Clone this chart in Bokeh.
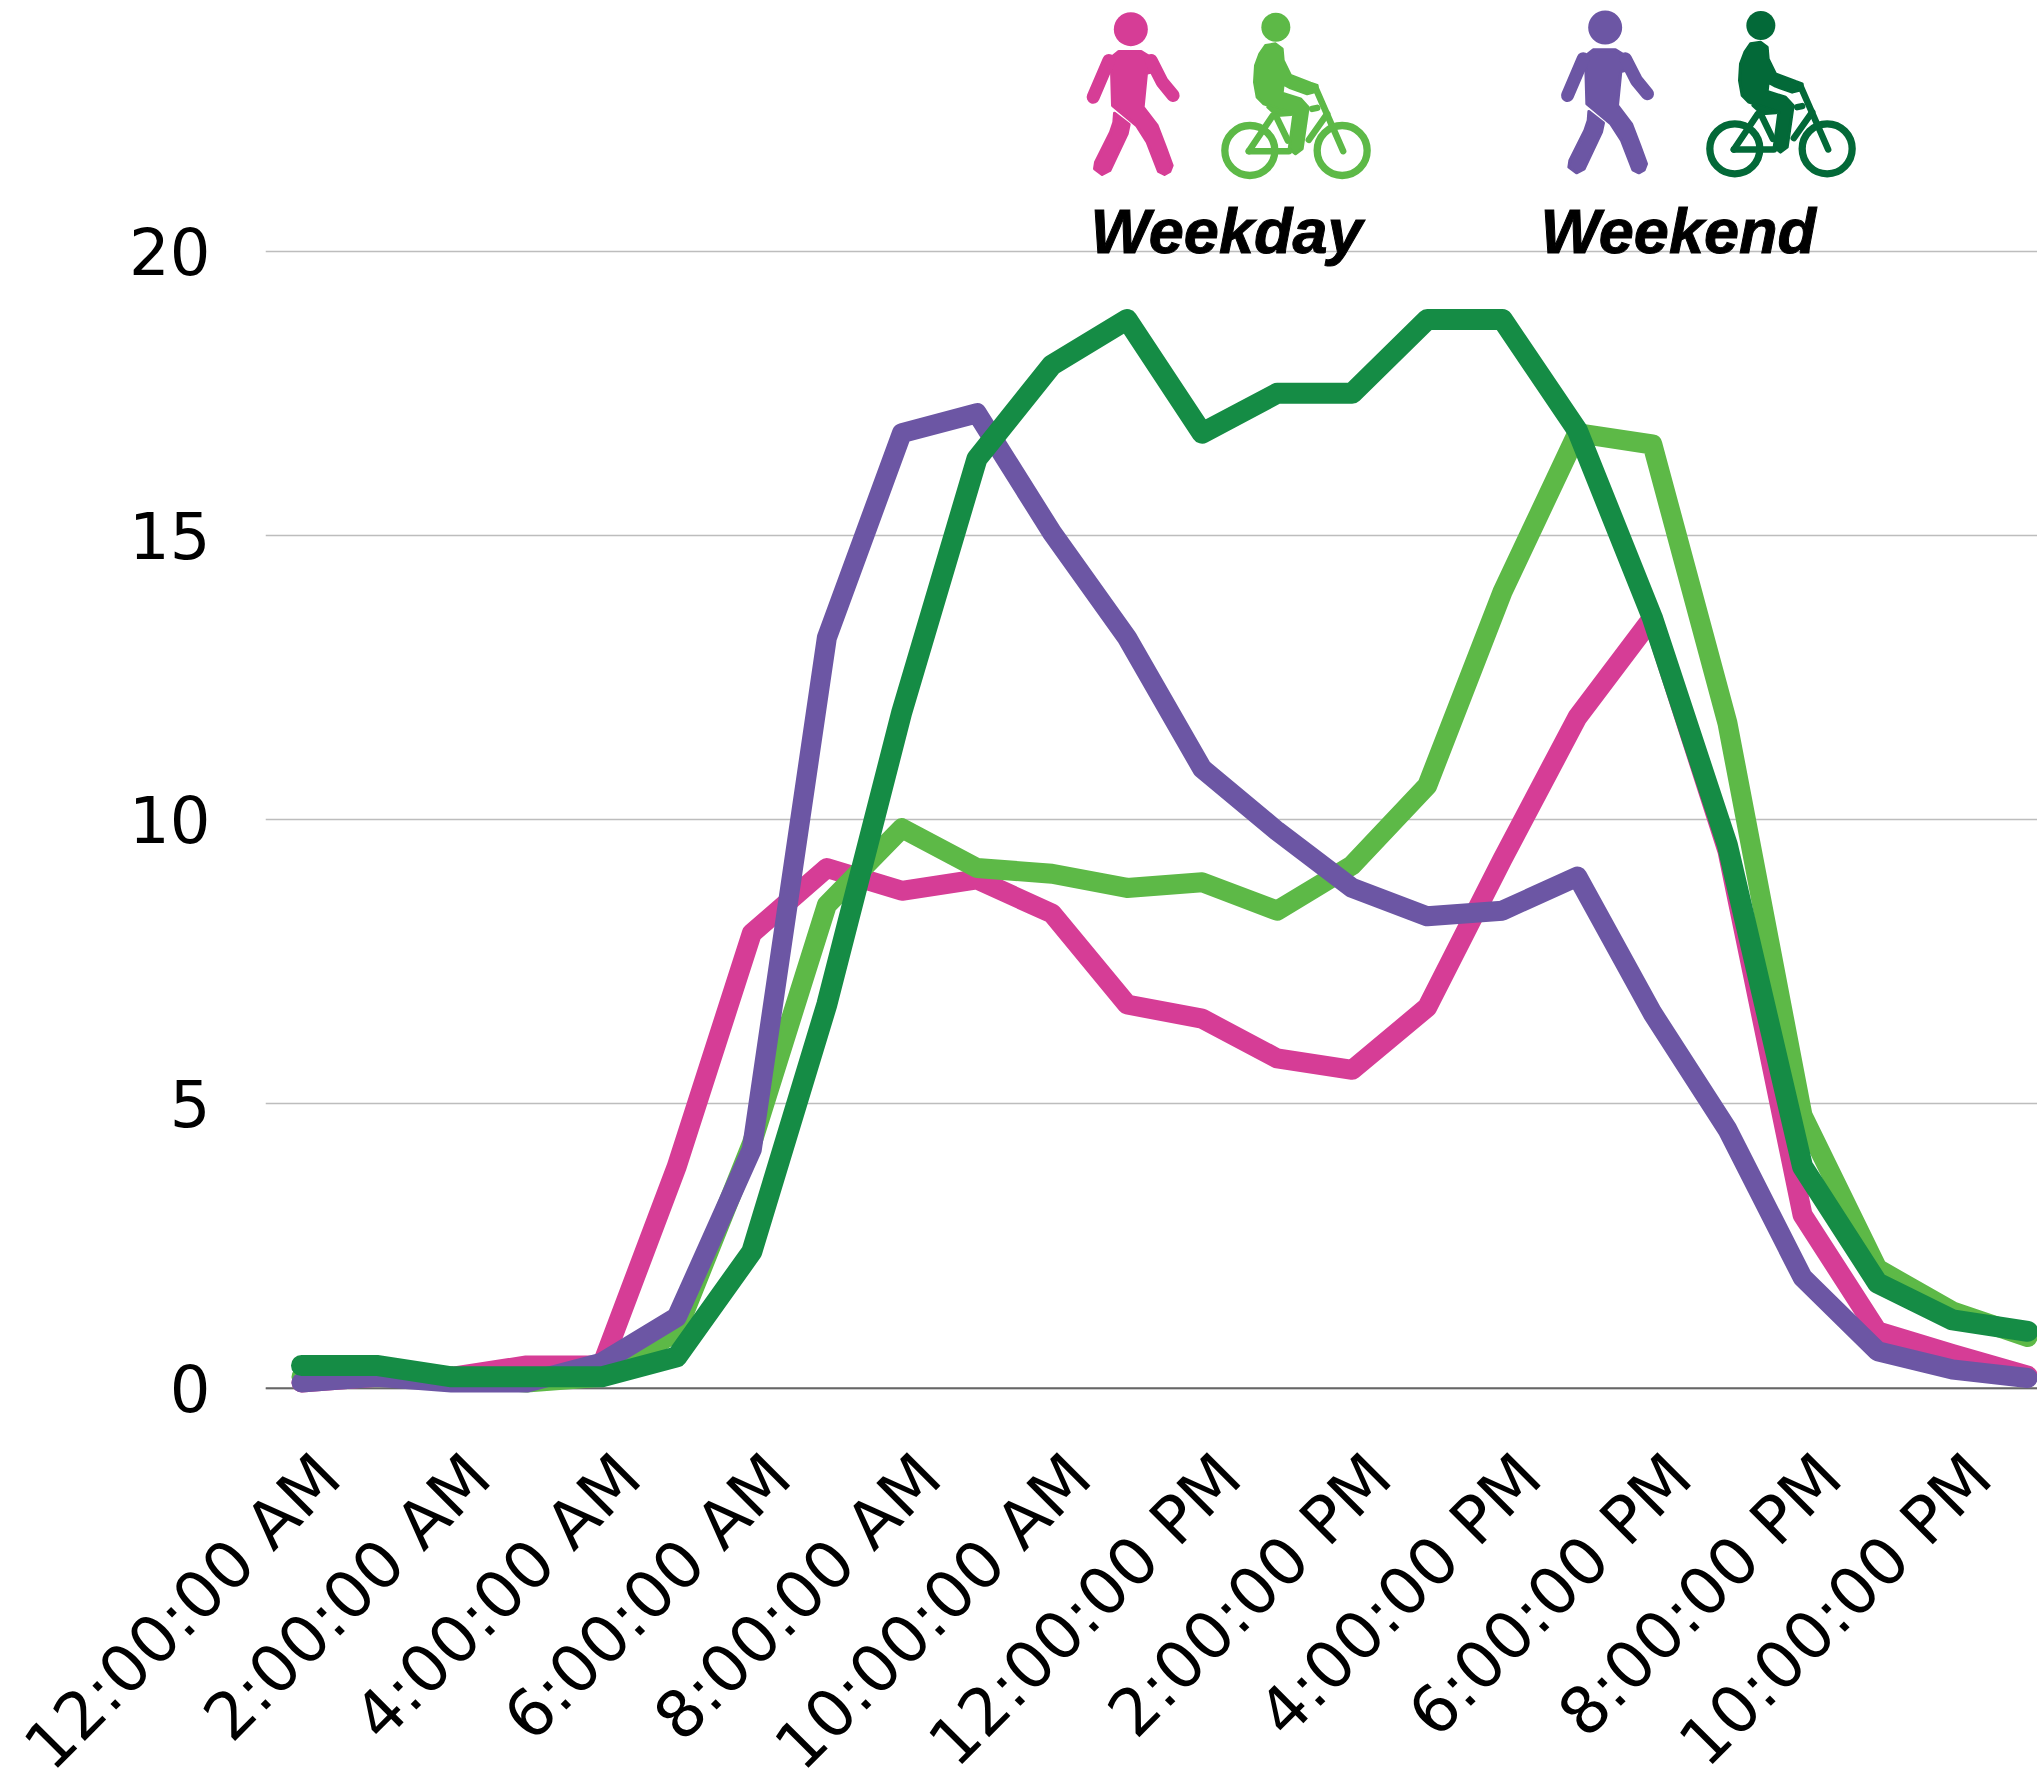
from math import pi
from bokeh.plotting import figure
from bokeh.models import FixedTicker, Range1d, Span
from bokeh.core.properties import value
from bokeh.embed import file_html
from bokeh.resources import INLINE

hours = list(range(24))
tick_hours = [0, 2, 4, 6, 8, 10, 12, 14, 16, 18, 20, 22]
tick_labels = ["12:00:00 AM", "2:00:00 AM", "4:00:00 AM", "6:00:00 AM", "8:00:00 AM", "10:00:00 AM",
               "12:00:00 PM", "2:00:00 PM", "4:00:00 PM", "6:00:00 PM", "8:00:00 PM", "10:00:00 PM"]
y_ticks = [0, 5, 10, 15, 20]

weekday_walk = [0.1, 0.2, 0.2, 0.4, 0.4, 3.9, 8.0, 9.15, 8.75, 8.95, 8.35, 6.75, 6.5, 5.8, 5.6, 6.7, 9.3, 11.8, 13.55, 9.45, 3.05, 1.0, 0.6, 0.22]
weekday_bike = [0.2, 0.3, 0.2, 0.1, 0.2, 1.0, 4.3, 8.5, 9.85, 9.15, 9.05, 8.8, 8.9, 8.4, 9.2, 10.6, 14.0, 16.8, 16.6, 11.7, 4.8, 2.1, 1.35, 0.9]
weekend_walk = [0.1, 0.2, 0.1, 0.1, 0.45, 1.25, 4.2, 13.2, 16.8, 17.15, 15.05, 13.2, 10.9, 9.8, 8.8, 8.3, 8.4, 9.0, 6.6, 4.55, 1.95, 0.65, 0.33, 0.18]
weekend_bike = [0.4, 0.4, 0.2, 0.2, 0.2, 0.55, 2.4, 6.75, 11.9, 16.35, 18.0, 18.8, 16.8, 17.5, 17.5, 18.8, 18.8, 16.85, 13.55, 9.55, 3.9, 1.85, 1.2, 1.0]

MAGENTA, LIGHT, PURPLE, DARK, ICON_DARK = "#d63d96", "#5db947", "#6c56a4", "#158c45", "#036938"
FONT = "DejaVu Sans"
LABEL_SHIFT = 0.36  # tick labels sit to the right of their hour, as in the source chart

X0, DX, Y0, DY = 301.0, 75.05, 1387.7, 56.85
L, R, T, B = 265, 2037, 0, 1402
to_x = lambda px: (px - X0) / DX
to_y = lambda py: (Y0 - py) / DY
# icon outlines are traced in a crop space: full x = 1050 + X/3, full y = Y/3
ix = lambda X, d=0: to_x(1050 + (X + d) / 3.0)
iy = lambda Y, d=0: to_y((Y + d) / 3.0)

p = figure(width=2037, height=1784, output_backend="svg", toolbar_location=None,
           x_range=Range1d(to_x(L), to_x(R)), y_range=Range1d(to_y(B), to_y(T)),
           frame_width=R - L, frame_height=B - T,
           min_border_left=L, min_border_right=0, min_border_top=0, min_border_bottom=1784 - (B - T))
p.outline_line_color = None
p.background_fill_color = "white"
p.border_fill_color = "white"

p.xgrid.visible = False
p.ygrid.ticker = FixedTicker(ticks=y_ticks)
p.ygrid.grid_line_color = "#bdbdbd"
p.ygrid.grid_line_width = 1.5
p.add_layout(Span(location=0, dimension="width", line_color="#666666", line_width=2, level="underlay"))

shifted = [round(t + LABEL_SHIFT, 2) for t in tick_hours]
xa = p.xaxis[0]
xa.ticker = FixedTicker(ticks=shifted)
xa.major_label_overrides = dict(zip(shifted, tick_labels))
xa.major_label_orientation = pi / 4
xa.major_label_text_font = FONT
xa.major_label_text_font_size = "65px"
xa.major_label_text_color = "black"
xa.major_label_standoff = 57
xa.axis_line_color = None
xa.major_tick_line_color = None
xa.minor_tick_line_color = None

ya = p.yaxis[0]
ya.ticker = FixedTicker(ticks=y_ticks)
ya.major_label_text_font = FONT
ya.major_label_text_font_size = "64px"
ya.major_label_text_color = "black"
ya.major_label_standoff = 49
ya.axis_line_color = None
ya.major_tick_line_color = None
ya.minor_tick_line_color = None

for series, colour, width in [(weekday_walk, MAGENTA, 20), (weekday_bike, LIGHT, 20), (weekend_walk, PURPLE, 20), (weekend_bike, DARK, 21)]:
    p.line(hours, series, line_color=colour, line_width=width, line_join="round", line_cap="round")

walker_body = [(205,153),(272,153),(300,170),(322,210),(288,218),(278,320),(320,375),(345,440),(365,495),(358,513),
               (342,522),(324,513),(290,425),(258,375),(186,315),(183,210),(150,225),(165,185)]
walker_leg = [(192,338),(236,372),(230,400),(178,510),(155,522),(132,505),(135,485),(180,395),(190,365)]
walker_arms = [[(175,180),(128,290)], [(302,180),(335,245),(368,285)]]
rider_body = [(645,135),(675,130),(695,145),(698,180),(720,225),(780,248),(800,255),(800,272),(770,280),(720,262),
              (698,250),(695,278),(750,295),(773,320),(755,445),(735,460),(716,445),(730,340),(640,310),(620,290),
              (612,245),(615,195),(628,160)]
rider_seat = [(652,320),(722,342),(680,345)]
bike_bars = [[(795,262),(878,452)], [(667,345),(595,452)], [(595,452),(715,452)], [(678,350),(712,420)],
             [(830,340),(775,418)], [(785,325),(800,322)]]


def poly(shape, dx, dy, colour):
    p.patch([ix(a, dx) for a, b in shape], [iy(b, dy) for a, b in shape], fill_color=colour, line_color=colour,
            line_width=3, line_join="round")


def lines(paths, dx, dy, colour, width):
    p.multi_line([[ix(a, dx) for a, b in s] for s in paths], [[iy(b, dy) for a, b in s] for s in paths],
                 line_color=colour, line_width=width, line_cap="round", line_join="round")


def walker(dx, dy, colour):
    p.scatter([ix(241, dx)], [iy(86, dy)], size=34, marker="circle", fill_color=colour, line_color=None)
    poly(walker_body, dx, dy, colour)
    poly(walker_leg, dx, dy, colour)
    lines(walker_arms, dx, dy, colour, 13)


def rider(dx, dy, colour):
    p.scatter([ix(676, dx)], [iy(80, dy)], size=29, marker="circle", fill_color=colour, line_color=None)
    poly(rider_body, dx, dy, colour)
    poly(rider_seat, dx, dy, colour)
    lines(bike_bars, dx, dy, colour, 6.5)
    p.scatter([ix(598, dx), ix(875, dx)], [iy(450, dy), iy(450, dy)], size=50, marker="circle", fill_color=None,
              line_color=colour, line_width=7.3)


walker(0, 0, MAGENTA)
rider(0, 0, LIGHT)
walker(1423, -5, PURPLE)
rider(1455, -5, ICON_DARK)

p.text([to_x(1090), to_x(1540)], [to_y(230), to_y(230)], text=["Weekday", "Weekend"],
       text_font=value("Liberation Sans"), text_font_style="bold italic", text_font_size="63px",
       text_color="black", text_outline_color="black", text_baseline="alphabetic", text_align="left")

open("out.html", "w").write(file_html(p, INLINE))
